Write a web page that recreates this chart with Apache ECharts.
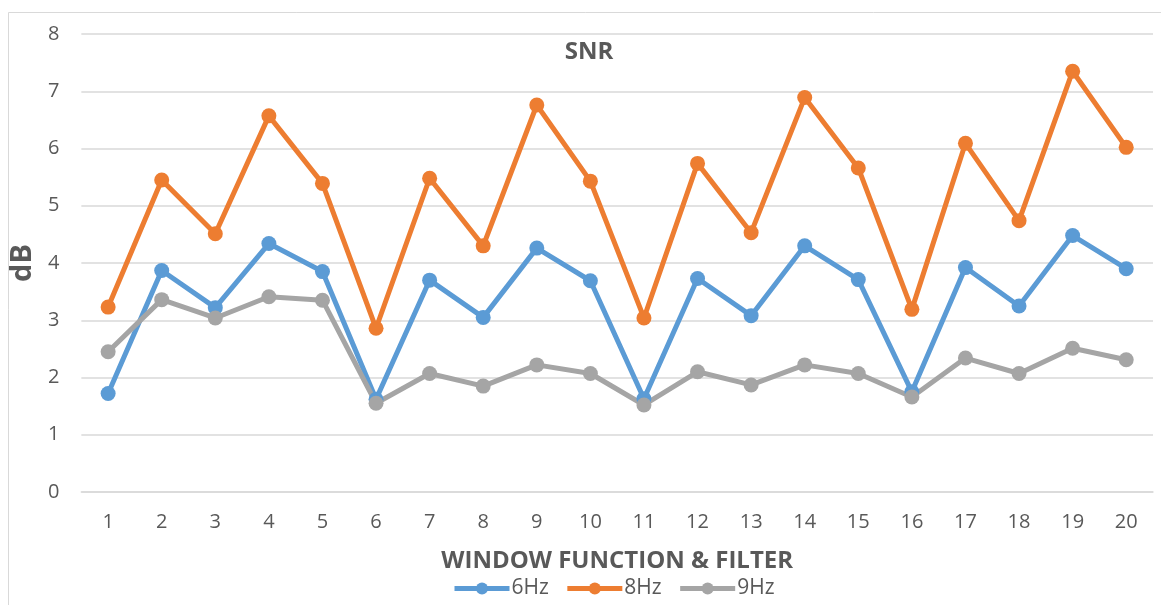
<!DOCTYPE html>
<html>
<head>
<meta charset="utf-8">
<script src="https://cdn.jsdelivr.net/npm/echarts@6/dist/echarts.min.js"></script>
<style>
html,body{margin:0;padding:0;background:#fff;}
#chart{width:1161px;height:605px;}
</style>
</head>
<body>
<div id="chart"></div>
<script>
const categories = ['1','2','3','4','5','6','7','8','9','10','11','12','13','14','15','16','17','18','19','20'];
const yTicks = [0,1,2,3,4,5,6,7,8];
const seriesNames = ['6Hz','8Hz','9Hz'];
const hz6 = [1.72,3.87,3.22,4.34,3.85,1.62,3.70,3.05,4.26,3.69,1.63,3.73,3.08,4.30,3.71,1.75,3.92,3.25,4.48,3.90];
const hz8 = [3.23,5.45,4.51,6.57,5.39,2.86,5.48,4.30,6.76,5.43,3.04,5.74,4.53,6.89,5.66,3.19,6.09,4.74,7.35,6.02];
const hz9 = [2.45,3.36,3.04,3.41,3.35,1.55,2.07,1.85,2.22,2.07,1.52,2.10,1.87,2.22,2.07,1.66,2.34,2.07,2.51,2.31];
const colors = ['#5B9BD5','#ED7D31','#A5A5A5'];

const FONT = '"Open Sans", sans-serif';
const chart = echarts.init(document.getElementById('chart'), null, {renderer:'canvas'});

function mkSeries(name, data, color){
  return {
    name: name, type: 'line', data: data,
    symbol: 'circle', symbolSize: 15,
    lineStyle: {width: 5, color: color},
    itemStyle: {color: color},
    emphasis: {disabled: true},
    animation: false
  };
}

chart.setOption({
  animation: false,
  backgroundColor: '#fff',
  title: {
    text: 'SNR', left: 584, top: 35, textAlign: 'center',
    textStyle: {fontFamily: FONT, fontSize: 24, fontWeight: 'bold', color: '#595959'}
  },
  graphic: [{
    type: 'rect', left: 6, top: 10, silent: true,
    shape: {width: 1200, height: 700},
    style: {fill: 'none', stroke: '#d9d9d9', lineWidth: 1}
  }],
  legend: {
    data: seriesNames, left: 447, top: 573,
    itemWidth: 55, itemHeight: 15, itemGap: 16,
    lineStyle: {width: 5},
    textStyle: {fontFamily: FONT, fontSize: 21, color: '#595959', padding: [0,0,0,-3]}
  },
  grid: {left: 80, right: 8, top: 34, bottom: 113, containLabel: false},
  xAxis: {
    type: 'category', data: categories, boundaryGap: true,
    name: 'WINDOW FUNCTION & FILTER', nameLocation: 'middle', nameGap: 57,
    nameTextStyle: {fontFamily: FONT, fontSize: 24, fontWeight: 'bold', color: '#595959'},
    axisLine: {lineStyle: {color: '#d9d9d9', width: 1.5}},
    axisTick: {show: false},
    axisLabel: {fontFamily: FONT, fontSize: 20, color: '#595959', margin: 20}
  },
  yAxis: {
    type: 'value', min: 0, max: 8, interval: 1,
    name: 'dB', nameLocation: 'middle', nameGap: 31,
    nameTextStyle: {fontFamily: FONT, fontSize: 29, fontWeight: 'bold', color: '#595959'},
    axisLine: {show: false}, axisTick: {show: false},
    splitLine: {lineStyle: {color: '#d9d9d9', width: 1.5}},
    axisLabel: {fontFamily: FONT, fontSize: 20, color: '#595959', margin: 22,
      formatter: function(v){ return yTicks.indexOf(v) >= 0 ? String(v) : ''; }}
  },
  series: [
    mkSeries(seriesNames[0], hz6, colors[0]),
    mkSeries(seriesNames[1], hz8, colors[1]),
    mkSeries(seriesNames[2], hz9, colors[2])
  ]
});
</script>
</body>
</html>
